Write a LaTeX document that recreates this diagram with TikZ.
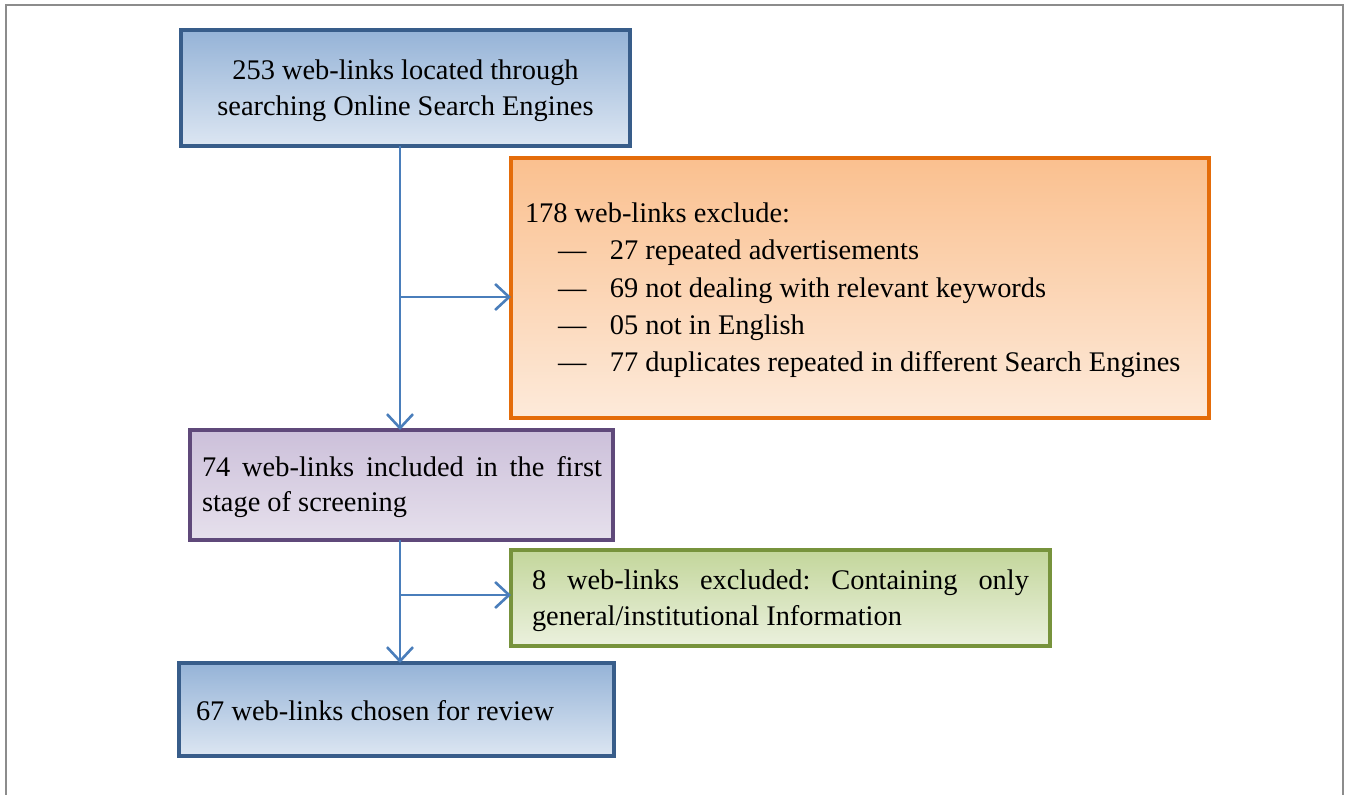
\documentclass[tikz,border=0pt]{standalone}
\usepackage{fontspec}
\setmainfont{Liberation Serif}
\usetikzlibrary{arrows.meta}
\frenchspacing
\definecolor{frameg}{HTML}{8C8C8C}
\definecolor{arrowb}{HTML}{4A7EBB}
\definecolor{blueD}{HTML}{385D8A}
\definecolor{blueT}{HTML}{95B3D7}
\definecolor{blueB}{HTML}{DCE6F2}
\definecolor{orD}{HTML}{E46C0A}
\definecolor{orT}{HTML}{FAC08F}
\definecolor{orB}{HTML}{FDEADA}
\definecolor{puD}{HTML}{5F497A}
\definecolor{puT}{HTML}{CCC0DA}
\definecolor{puB}{HTML}{E6E0EC}
\definecolor{grD}{HTML}{77933C}
\definecolor{grT}{HTML}{C3D69B}
\definecolor{grB}{HTML}{EBF1DE}
\tikzset{
  boxbase/.style={rectangle, anchor=north west, line width=3.2pt, inner sep=0pt, outer sep=0pt},
  bluebox/.style={boxbase, draw=blueD, top color=blueT, bottom color=blueB},
  orbox/.style={boxbase, draw=orD, top color=orT, bottom color=orB},
  pubox/.style={boxbase, draw=puD, top color=puT, bottom color=puB},
  grbox/.style={boxbase, draw=grD, top color=grT, bottom color=grB},
  txt/.style={anchor=base west, inner sep=0pt, outer sep=0pt, font=\fontsize{28.4}{37}\selectfont},
  ctxt/.style={anchor=base, inner sep=0pt, outer sep=0pt, font=\fontsize{28.4}{37}\selectfont},
  conn/.style={draw=arrowb, line width=2.6pt, -{Straight Barb[length=14pt,width=26pt,line width=2.6pt]}},
}
\begin{document}
\begin{tikzpicture}[x=1pt,y=1pt]
\useasboundingbox (0,0) rectangle (1347,-795);
% frame
\draw[frameg, line width=2pt] (6,-800) -- (6,-5) -- (1343,-5) -- (1343,-800);

% boxes
\node[bluebox, minimum width=449pt, minimum height=116pt] (b1) at (181,-30) {};
\node[orbox, minimum width=698pt, minimum height=260pt] (b2) at (511,-158) {};
\node[pubox, minimum width=423pt, minimum height=110pt] (b3) at (190,-430) {};
\node[grbox, minimum width=539pt, minimum height=96pt] (b4) at (511,-550) {};
\node[bluebox, minimum width=435pt, minimum height=93pt] (b5) at (179,-663) {};

% box 1 text
\node[ctxt] (t1a) at (405.5,-79) {253 web-links located through};
\node[ctxt] (t1b) at (405.5,-115) {searching Online Search Engines};

% box 2 text
\node[txt] (t2a) at (525,-222) {178 web-links exclude:};
\node[txt] (t2b) at (558,-259) {\makebox[52pt][l]{\textemdash}27 repeated advertisements};
\node[txt] (t2c) at (558,-297) {\makebox[52pt][l]{\textemdash}69 not dealing with relevant keywords};
\node[txt] (t2d) at (558,-334) {\makebox[52pt][l]{\textemdash}05 not in English};
\node[txt] (t2e) at (558,-371) {\makebox[52pt][l]{\textemdash}77 duplicates repeated in different Search Engines};

% box 3 text
\node[txt] (t3a) at (202,-476) {\makebox[400pt][s]{74 web-links included in the first}};
\node[txt] (t3b) at (202,-511) {stage of screening};

% box 4 text
\node[txt] (t4a) at (532,-589) {\makebox[497pt][s]{8 web-links excluded: Containing only}};
\node[txt] (t4b) at (532,-625) {general/institutional Information};

% box 5 text
\node[txt] (t5a) at (196,-720) {67 web-links chosen for review};

% connectors
\coordinate (j1) at (400,-297);
\coordinate (j2) at (400,-595);
\draw[conn] (b1.south -| j1) -- (b3.north -| j1);
\draw[conn] (j1) -- (j1 -| b2.west);
\draw[conn] (b3.south -| j2) -- (b5.north -| j2);
\draw[conn] (j2) -- (j2 -| b4.west);
\end{tikzpicture}
\end{document}
